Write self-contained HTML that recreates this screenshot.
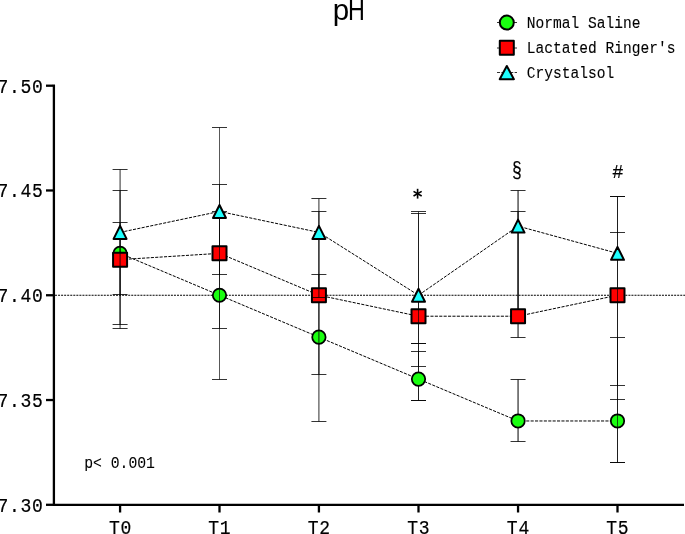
<!DOCTYPE html>
<html><head><meta charset="utf-8"><style>
html,body{margin:0;padding:0;background:#fff;}
body{width:685px;height:534px;position:relative;overflow:hidden;}
svg{position:absolute;left:0;top:0;will-change:transform;}
</style></head><body>
<svg width="685" height="534" viewBox="0 0 685 534">
<line x1="55" y1="295.25" x2="685" y2="295.25" stroke="#000" stroke-width="1" stroke-dasharray="2 1.05"/>
<g fill="none" stroke="#000" stroke-width="1" stroke-dasharray="3.1 1.3"><polyline points="120.08,253.34 219.50,295.25 318.92,337.16 418.50,379.07 518.05,420.98 617.50,420.98"/><polyline points="120.08,259.63 219.50,253.34 318.92,295.25 418.50,316.21 518.05,316.21 617.50,295.25"/><polyline points="120.08,232.39 219.50,211.43 318.92,232.39 418.50,295.25 518.05,226.10 617.50,253.34"/></g>
<g stroke="#000" stroke-width="0.66" fill="none"><line x1="120.08" y1="222.50" x2="120.08" y2="324.50" stroke-width="0.83"/><line x1="112.58" y1="222.50" x2="127.58" y2="222.50" stroke-width="0.8"/><line x1="112.58" y1="324.50" x2="127.58" y2="324.50" stroke-width="0.8"/><line x1="219.50" y1="211.50" x2="219.50" y2="379.50" stroke-width="0.66"/><line x1="212.00" y1="211.50" x2="227.00" y2="211.50" stroke-width="0.8"/><line x1="212.00" y1="379.50" x2="227.00" y2="379.50" stroke-width="0.8"/><line x1="318.92" y1="274.50" x2="318.92" y2="421.50" stroke-width="0.83"/><line x1="311.42" y1="274.50" x2="326.42" y2="274.50" stroke-width="0.8"/><line x1="311.42" y1="421.50" x2="326.42" y2="421.50" stroke-width="0.8"/><line x1="418.50" y1="351.50" x2="418.50" y2="400.50" stroke-width="0.66"/><line x1="411.00" y1="351.50" x2="426.00" y2="351.50" stroke-width="0.8"/><line x1="411.00" y1="400.50" x2="426.00" y2="400.50" stroke-width="0.8"/><line x1="418.50" y1="343.50" x2="418.50" y2="400.50" stroke-width="0.66"/><line x1="411.00" y1="343.50" x2="426.00" y2="343.50" stroke-width="0.8"/><line x1="411.00" y1="400.50" x2="426.00" y2="400.50" stroke-width="0.8"/><line x1="518.05" y1="379.50" x2="518.05" y2="441.50" stroke-width="1.0"/><line x1="510.55" y1="379.50" x2="525.55" y2="379.50" stroke-width="0.8"/><line x1="510.55" y1="441.50" x2="525.55" y2="441.50" stroke-width="0.8"/><line x1="617.50" y1="337.50" x2="617.50" y2="462.50" stroke-width="0.66"/><line x1="610.00" y1="337.50" x2="625.00" y2="337.50" stroke-width="0.8"/><line x1="610.00" y1="462.50" x2="625.00" y2="462.50" stroke-width="0.8"/></g><g fill="#1aff10" stroke="#000" stroke-width="1.75" stroke-linejoin="round"><circle cx="120.08" cy="253.34" r="6.7"/><circle cx="219.50" cy="295.25" r="6.7"/><circle cx="318.92" cy="337.16" r="6.7"/><circle cx="418.50" cy="379.07" r="6.7"/><circle cx="518.05" cy="420.98" r="6.7"/><circle cx="617.50" cy="420.98" r="6.7"/></g>
<g stroke="#000" stroke-width="0.66" fill="none"><line x1="120.08" y1="190.50" x2="120.08" y2="328.50" stroke-width="0.83"/><line x1="112.58" y1="190.50" x2="127.58" y2="190.50" stroke-width="0.8"/><line x1="112.58" y1="328.50" x2="127.58" y2="328.50" stroke-width="0.8"/><line x1="219.50" y1="184.50" x2="219.50" y2="328.50" stroke-width="0.66"/><line x1="212.00" y1="184.50" x2="227.00" y2="184.50" stroke-width="0.8"/><line x1="212.00" y1="328.50" x2="227.00" y2="328.50" stroke-width="0.8"/><line x1="318.92" y1="211.50" x2="318.92" y2="374.50" stroke-width="0.83"/><line x1="311.42" y1="211.50" x2="326.42" y2="211.50" stroke-width="0.8"/><line x1="311.42" y1="374.50" x2="326.42" y2="374.50" stroke-width="0.8"/><line x1="418.50" y1="213.50" x2="418.50" y2="366.50" stroke-width="0.66"/><line x1="411.00" y1="213.50" x2="426.00" y2="213.50" stroke-width="0.8"/><line x1="411.00" y1="366.50" x2="426.00" y2="366.50" stroke-width="0.8"/><line x1="518.05" y1="211.50" x2="518.05" y2="337.50" stroke-width="1.0"/><line x1="510.55" y1="211.50" x2="525.55" y2="211.50" stroke-width="0.8"/><line x1="510.55" y1="337.50" x2="525.55" y2="337.50" stroke-width="0.8"/><line x1="617.50" y1="196.50" x2="617.50" y2="462.50" stroke-width="0.66"/><line x1="610.00" y1="196.50" x2="625.00" y2="196.50" stroke-width="0.8"/><line x1="610.00" y1="462.50" x2="625.00" y2="462.50" stroke-width="0.8"/></g><g fill="#ff0000" stroke="#000" stroke-width="2" stroke-linejoin="round"><rect x="113.08" y="252.63" width="14" height="14"/><rect x="212.50" y="246.34" width="14" height="14"/><rect x="311.92" y="288.25" width="14" height="14"/><rect x="411.50" y="309.21" width="14" height="14"/><rect x="511.05" y="309.21" width="14" height="14"/><rect x="610.50" y="288.25" width="14" height="14"/></g>
<g stroke="#000" stroke-width="0.66"><line x1="610.00" y1="232.50" x2="625.00" y2="232.50" stroke-width="0.8"/><line x1="610.00" y1="399.50" x2="625.00" y2="399.50" stroke-width="0.8"/></g>
<g stroke="#000" stroke-width="0.66" fill="none"><line x1="120.08" y1="169.50" x2="120.08" y2="294.50" stroke-width="0.83"/><line x1="112.58" y1="169.50" x2="127.58" y2="169.50" stroke-width="0.8"/><line x1="112.58" y1="294.50" x2="127.58" y2="294.50" stroke-width="0.8"/><line x1="219.50" y1="127.50" x2="219.50" y2="274.50" stroke-width="0.66"/><line x1="212.00" y1="127.50" x2="227.00" y2="127.50" stroke-width="0.8"/><line x1="212.00" y1="274.50" x2="227.00" y2="274.50" stroke-width="0.8"/><line x1="318.92" y1="198.50" x2="318.92" y2="297.50" stroke-width="0.83"/><line x1="311.42" y1="198.50" x2="326.42" y2="198.50" stroke-width="0.8"/><line x1="311.42" y1="297.50" x2="326.42" y2="297.50" stroke-width="0.8"/><line x1="418.50" y1="211.50" x2="418.50" y2="343.50" stroke-width="0.66"/><line x1="411.00" y1="211.50" x2="426.00" y2="211.50" stroke-width="0.8"/><line x1="411.00" y1="343.50" x2="426.00" y2="343.50" stroke-width="0.8"/><line x1="518.05" y1="190.50" x2="518.05" y2="309.50" stroke-width="1.0"/><line x1="510.55" y1="190.50" x2="525.55" y2="190.50" stroke-width="0.8"/><line x1="510.55" y1="309.50" x2="525.55" y2="309.50" stroke-width="0.8"/><line x1="617.50" y1="196.50" x2="617.50" y2="385.50" stroke-width="0.66"/><line x1="610.00" y1="196.50" x2="625.00" y2="196.50" stroke-width="0.8"/><line x1="610.00" y1="385.50" x2="625.00" y2="385.50" stroke-width="0.8"/></g><g fill="#1effff" stroke="#000" stroke-width="2" stroke-linejoin="round"><path d="M120.08 225.89L126.58 238.89L113.58 238.89Z"/><path d="M219.50 204.93L226.00 217.93L213.00 217.93Z"/><path d="M318.92 225.89L325.42 238.89L312.42 238.89Z"/><path d="M418.50 288.75L425.00 301.75L412.00 301.75Z"/><path d="M518.05 219.60L524.55 232.60L511.55 232.60Z"/><path d="M617.50 246.84L624.00 259.84L611.00 259.84Z"/></g>
<g stroke="#000" stroke-width="2.3" fill="none" stroke-linecap="butt"><path d="M53.9 84.55V505.95M52.75 504.8H684"/><line x1="46" y1="85.70" x2="53" y2="85.70"/><line x1="46" y1="190.47" x2="53" y2="190.47"/><line x1="46" y1="295.25" x2="53" y2="295.25"/><line x1="46" y1="400.03" x2="53" y2="400.03"/><line x1="46" y1="504.80" x2="53" y2="504.80"/><line x1="120.08" y1="505" x2="120.08" y2="512.5"/><line x1="219.50" y1="505" x2="219.50" y2="512.5"/><line x1="318.92" y1="505" x2="318.92" y2="512.5"/><line x1="418.50" y1="505" x2="418.50" y2="512.5"/><line x1="518.05" y1="505" x2="518.05" y2="512.5"/><line x1="617.50" y1="505" x2="617.50" y2="512.5"/></g>
<g stroke="#000" stroke-width="0.8"><line x1="497" y1="22.5" x2="517" y2="22.5"/><line x1="497" y1="48" x2="517" y2="48"/><line x1="497" y1="72.5" x2="517" y2="72.5" stroke-dasharray="3.1 1.3"/></g><g stroke="#000" stroke-width="2" stroke-linejoin="round"><circle cx="506.8" cy="22.6" r="7.0" fill="#1aff10"/><rect x="499.8" y="40.8" width="14" height="14" fill="#ff0000"/><path d="M506.8 66L513.9 79.2L499.7 79.2Z" fill="#1effff"/></g>
<g fill="#000"><text transform="translate(43.55 92.70) scale(0.86 1)" font-family="'Liberation Mono', monospace" font-size="21" text-anchor="end" letter-spacing="0.810" stroke="#000" stroke-width="0.2">7.50</text>
<text transform="translate(43.55 197.47) scale(0.86 1)" font-family="'Liberation Mono', monospace" font-size="21" text-anchor="end" letter-spacing="0.810" stroke="#000" stroke-width="0.2">7.45</text>
<text transform="translate(43.55 302.25) scale(0.86 1)" font-family="'Liberation Mono', monospace" font-size="21" text-anchor="end" letter-spacing="0.810" stroke="#000" stroke-width="0.2">7.40</text>
<text transform="translate(43.55 407.03) scale(0.86 1)" font-family="'Liberation Mono', monospace" font-size="21" text-anchor="end" letter-spacing="0.810" stroke="#000" stroke-width="0.2">7.35</text>
<text transform="translate(43.55 511.80) scale(0.86 1)" font-family="'Liberation Mono', monospace" font-size="21" text-anchor="end" letter-spacing="0.810" stroke="#000" stroke-width="0.2">7.30</text>
<text transform="translate(120.43 534.00) scale(0.86 1)" font-family="'Liberation Mono', monospace" font-size="21" text-anchor="middle" letter-spacing="0.810" stroke="#000" stroke-width="0.2">T0</text>
<text transform="translate(219.85 534.00) scale(0.86 1)" font-family="'Liberation Mono', monospace" font-size="21" text-anchor="middle" letter-spacing="0.810" stroke="#000" stroke-width="0.2">T1</text>
<text transform="translate(319.27 534.00) scale(0.86 1)" font-family="'Liberation Mono', monospace" font-size="21" text-anchor="middle" letter-spacing="0.810" stroke="#000" stroke-width="0.2">T2</text>
<text transform="translate(418.85 534.00) scale(0.86 1)" font-family="'Liberation Mono', monospace" font-size="21" text-anchor="middle" letter-spacing="0.810" stroke="#000" stroke-width="0.2">T3</text>
<text transform="translate(518.40 534.00) scale(0.86 1)" font-family="'Liberation Mono', monospace" font-size="21" text-anchor="middle" letter-spacing="0.810" stroke="#000" stroke-width="0.2">T4</text>
<text transform="translate(617.85 534.00) scale(0.86 1)" font-family="'Liberation Mono', monospace" font-size="21" text-anchor="middle" letter-spacing="0.810" stroke="#000" stroke-width="0.2">T5</text>
<text transform="translate(526.80 27.90) scale(0.917 1)" font-family="'Liberation Mono', monospace" font-size="15.9" text-anchor="start" stroke="#000" stroke-width="0.1">Normal Saline</text>
<text transform="translate(526.80 53.00) scale(0.917 1)" font-family="'Liberation Mono', monospace" font-size="15.9" text-anchor="start" stroke="#000" stroke-width="0.1">Lactated Ringer&apos;s</text>
<text transform="translate(526.80 77.50) scale(0.917 1)" font-family="'Liberation Mono', monospace" font-size="15.9" text-anchor="start" stroke="#000" stroke-width="0.1">Crystalsol</text>
<text transform="translate(84.20 468.30) scale(0.91 1)" font-family="'Liberation Mono', monospace" font-size="16.2" text-anchor="start" stroke="#000" stroke-width="0.1">p&lt; 0.001</text>
<text transform="translate(332.80 19.70) scale(1 1)" font-family="'Liberation Sans', sans-serif" font-size="29.5" text-anchor="start">p</text>
<text transform="translate(348.10 19.70) scale(0.79 1)" font-family="'Liberation Sans', sans-serif" font-size="29.5" text-anchor="start">H</text>
<text transform="translate(612.30 177.50) scale(0.93 1)" font-family="'Liberation Mono', monospace" font-size="20" text-anchor="start" stroke="#000" stroke-width="0.2">#</text>
<text transform="translate(517.00 176.60) scale(0.78 1)" font-family="'Liberation Mono', monospace" font-size="22" text-anchor="middle" stroke="#000" stroke-width="0.2">§</text>
<g stroke="#000" stroke-width="1.65" stroke-linecap="butt"><line x1="417.60" y1="188.80" x2="417.60" y2="198.60"/><line x1="413.53" y1="191.35" x2="421.67" y2="196.05"/><line x1="421.67" y1="191.35" x2="413.53" y2="196.05"/></g></g>
</svg>
</body></html>
